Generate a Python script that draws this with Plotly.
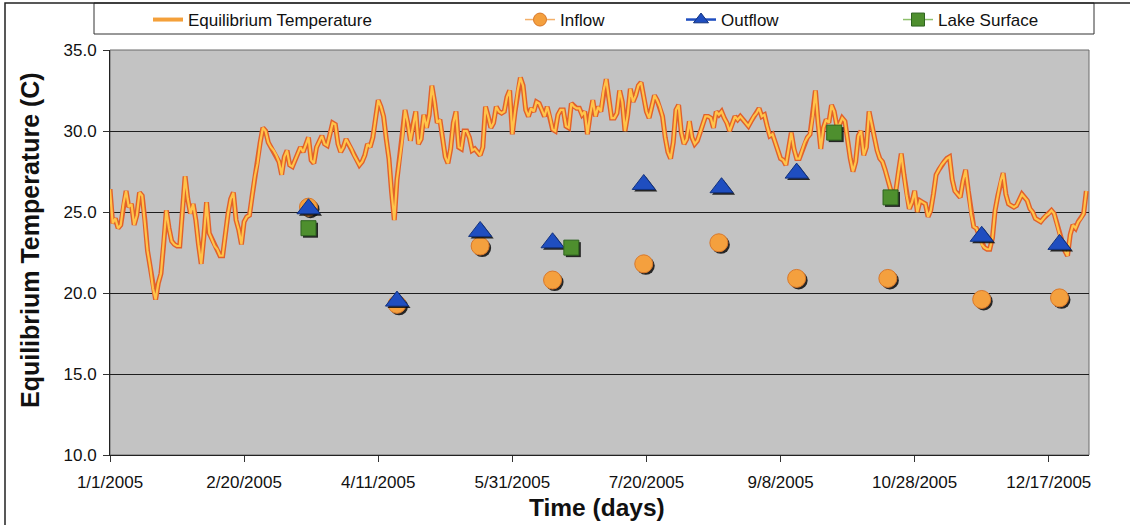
import pandas as pd
import plotly.graph_objects as go

# ---- data -----------------------------------------------------------------
start_date = "2005-01-01"

# daily equilibrium temperature (C), 1/1/2005 .. 12/31/2005
eq_temp = [
    26.4, 24.3, 24.6, 24.0, 24.2, 25.5, 26.3, 25.3, 25.5, 24.2,
    24.8, 26.2, 26.0, 24.5, 22.6, 21.6, 20.3, 19.6, 20.6, 21.2,
    23.0, 25.1, 24.0, 23.2, 23.0, 22.9, 22.9, 25.0, 27.2, 25.8,
    24.9, 25.5, 24.5, 23.0, 21.8, 23.5, 25.6, 23.7, 23.3, 22.9,
    22.7, 22.3, 22.3, 23.7, 24.9, 25.8, 26.2, 24.5, 23.9, 23.0,
    24.4, 24.7, 24.8, 26.0, 27.2, 28.0, 29.3, 30.2, 30.0, 29.3,
    29.0, 28.8, 28.5, 28.1, 27.3, 28.4, 28.8, 27.9, 27.8, 28.2,
    28.6, 29.0, 28.7, 29.2, 29.6, 28.2, 28.0, 29.0, 29.4, 29.7,
    29.2, 29.1, 29.8, 30.5, 30.4, 29.2, 28.7, 29.0, 29.5, 29.2,
    28.9, 28.5, 28.2, 27.9, 28.1, 28.5, 29.2, 29.0, 29.6, 30.8,
    31.9, 31.5, 30.9, 29.5, 28.3, 26.2, 24.5, 27.0, 28.3, 29.5,
    31.3, 30.5, 29.4, 30.4, 31.2, 29.2, 29.5, 31.0, 30.2, 31.0,
    32.8, 31.8, 30.5, 30.7, 29.4, 28.4, 28.0, 28.9, 30.5, 31.2,
    29.0, 28.9, 30.0, 30.0, 29.6, 28.8, 28.9, 28.7, 28.5, 29.0,
    31.5, 30.9, 30.2, 30.5, 31.5, 31.2, 31.1, 31.2, 32.1, 32.5,
    29.8, 31.2, 32.5, 33.3, 32.8, 31.3, 30.9, 31.4, 31.2, 31.8,
    31.7, 31.3, 30.9, 31.5, 30.9, 30.1, 30.0, 31.0, 31.3, 31.3,
    30.3, 30.2, 31.7, 31.5, 31.4, 31.4, 31.0, 31.2, 29.8, 31.0,
    31.9, 30.9, 31.5, 31.2, 32.5, 33.2, 32.0, 30.8, 30.8, 31.1,
    32.5, 31.8, 30.0, 31.0, 32.6, 31.8, 32.2, 32.8, 33.0, 32.2,
    31.2, 30.8, 31.5, 32.2, 31.9, 31.5, 30.9, 29.6, 28.7, 28.3,
    29.3, 31.3, 31.6, 29.9, 29.2, 29.5, 30.6, 29.6, 29.2, 29.4,
    29.9, 30.4, 30.9, 30.9, 30.8, 30.2, 31.2, 31.0, 31.2, 30.8,
    30.5, 30.0, 30.5, 30.9, 30.7, 30.9, 30.7, 30.5, 30.3, 30.6,
    30.9, 31.1, 31.4, 30.9, 31.0, 30.3, 29.7, 29.8, 29.3, 28.7,
    28.3, 28.2, 27.9, 28.9, 29.9, 28.9, 28.3, 28.3, 28.8, 29.3,
    29.6, 29.8, 30.9, 32.5, 30.5, 28.9, 30.2, 30.7, 30.5, 31.6,
    31.2, 30.3, 30.4, 30.8, 30.6, 29.3, 28.3, 27.5, 28.1, 29.7,
    30.0, 28.5, 29.0, 31.2, 30.4, 29.4, 28.8, 28.3, 28.1, 27.6,
    26.9, 26.4, 26.1, 26.3, 27.5, 28.6, 27.3, 26.0, 25.2, 25.6,
    26.3, 25.0, 25.7, 25.6, 25.5, 24.7, 25.1, 26.1, 27.3, 27.6,
    27.9, 28.1, 28.3, 28.4, 27.0, 26.3, 26.1, 25.9, 26.9, 27.6,
    26.3, 24.9, 24.1, 24.0, 23.6, 23.0, 22.8, 22.7, 22.7, 23.4,
    25.1, 26.0, 26.9, 27.4, 26.1, 25.5, 25.4, 25.3, 25.4, 25.8,
    26.1, 25.9, 25.7, 25.2, 25.0, 24.6, 24.5, 24.4, 24.6, 24.8,
    24.9, 25.1, 24.9, 24.3, 23.6, 23.0, 22.6, 22.3, 23.6, 24.2,
    24.0, 24.4, 24.6, 24.9, 26.3,
]

inflow_dates = ["2005-03-16", "2005-04-18", "2005-05-19", "2005-06-15", "2005-07-19",
                "2005-08-16", "2005-09-14", "2005-10-18", "2005-11-22", "2005-12-21"]
inflow_temp = [25.3, 19.3, 22.9, 20.8, 21.8, 23.1, 20.9, 20.9, 19.6, 19.7]

outflow_dates = ["2005-03-16", "2005-04-18", "2005-05-19", "2005-06-15", "2005-07-19",
                 "2005-08-17", "2005-09-14", "2005-11-22", "2005-12-21"]
outflow_temp = [25.2, 19.5, 23.8, 23.1, 26.7, 26.5, 27.4, 23.5, 23.0]

lake_dates = ["2005-03-16", "2005-06-22", "2005-09-28", "2005-10-19"]
lake_temp = [24.0, 22.8, 29.9, 25.9]

x_tick_dates = ["2005-01-01", "2005-02-20", "2005-04-11", "2005-05-31",
                "2005-07-20", "2005-09-08", "2005-10-28", "2005-12-17"]
x_tick_labels = ["1/1/2005", "2/20/2005", "4/11/2005", "5/31/2005",
                 "7/20/2005", "9/8/2005", "10/28/2005", "12/17/2005"]
y_ticks = [10, 15, 20, 25, 30, 35]
y_tick_labels = ["10.0", "15.0", "20.0", "25.0", "30.0", "35.0"]

# ---- geometry ---------------------------------------------------------------
W, H = 1130, 525
M_L, M_R, M_T, M_B = 110, 41, 50, 70
PW, PH = W - M_L - M_R, H - M_T - M_B
X_END = "2006-01-01"
Y_MIN, Y_MAX = 10, 35


def px_x(px):
    return (px - M_L) / PW


def px_y(py):
    return (H - M_B - py) / PH


FONT = "Liberation Sans, Arial, sans-serif"
eq_dates = pd.date_range(start_date, periods=len(eq_temp), freq="D")

# drop-shadow offset for markers (2 px right / down)
days_span = (pd.Timestamp(X_END) - pd.Timestamp(start_date)).days
shadow_dx = pd.Timedelta(hours=24 * 2.0 * days_span / PW)
shadow_dy = 2.0 * (Y_MAX - Y_MIN) / PH


def shifted(dates):
    return [pd.Timestamp(d) + shadow_dx for d in dates]


def dropped(vals):
    return [v - shadow_dy for v in vals]


fig = go.Figure()

# equilibrium temperature: reddish rim + golden core
fig.add_trace(go.Scatter(x=eq_dates, y=eq_temp, mode="lines",
                         line=dict(color="#E2612A", width=5),
                         showlegend=False, hoverinfo="skip"))
fig.add_trace(go.Scatter(x=eq_dates, y=eq_temp, mode="lines",
                         line=dict(color="#FFC44A", width=2.2),
                         name="Equilibrium Temperature", showlegend=False))

marker_specs = [
    ("Inflow", inflow_dates, inflow_temp, "circle", 18, "#F4A03E", "#D9782A", "#F3B06A", "legend2"),
    ("Outflow", outflow_dates, outflow_temp, "triangle-up", 20, "#1F4EC0", "#12327E", "#1F4EC0", "legend3"),
    ("Lake Surface", lake_dates, lake_temp, "square", 15, "#4E8F2E", "#2F6420", "#8EC06C", "legend4"),
]

for name, d, v, sym, size, fill, edge, _, _ in marker_specs:
    fig.add_trace(go.Scatter(x=shifted(d), y=dropped(v), mode="markers",
                             marker=dict(symbol=sym, size=size, color="rgba(10,10,10,0.85)",
                                         line=dict(width=0)),
                             showlegend=False, hoverinfo="skip"))
    fig.add_trace(go.Scatter(x=d, y=v, mode="markers", name=name,
                             marker=dict(symbol=sym, size=size, color=fill,
                                         line=dict(color=edge, width=1)),
                             showlegend=False))

# legend entries (line + marker swatches)
fig.add_trace(go.Scatter(x=[None], y=[None], mode="lines", name="Equilibrium Temperature",
                         line=dict(color="#F4A03A", width=4), legend="legend"))
for name, _, _, sym, size, fill, edge, lcol, leg in marker_specs:
    fig.add_trace(go.Scatter(x=[None], y=[None], mode="lines+markers", name=name,
                             line=dict(color=lcol, width=2.5 if name == "Outflow" else 1.5),
                             marker=dict(symbol=sym, size=min(size, 13), color=fill,
                                         line=dict(color=edge, width=1)),
                             legend=leg))

leg_common = dict(orientation="h", bgcolor="rgba(0,0,0,0)", borderwidth=0,
                  font=dict(family=FONT, size=17, color="#111"),
                  yanchor="middle", xanchor="left", itemwidth=30)
legend_text_px = {"legend": 190, "legend2": 562, "legend3": 723, "legend4": 940}
legends = {k: dict(leg_common, x=px_x(v - 42), y=px_y(20)) for k, v in legend_text_px.items()}

fig.update_layout(
    width=W, height=H,
    margin=dict(l=M_L, r=M_R, t=M_T, b=M_B, autoexpand=False),
    paper_bgcolor="white",
    plot_bgcolor="#C3C3C3",
    font=dict(family=FONT, size=17, color="#111"),
    **legends,
    xaxis=dict(type="date", range=[start_date, X_END],
               tickvals=x_tick_dates, ticktext=x_tick_labels,
               ticks="outside", ticklen=6, tickcolor="#333", tickwidth=1,
               showline=True, linecolor="#222", linewidth=1,
               showgrid=False, zeroline=False, ticklabelstandoff=6,
               tickfont=dict(family=FONT, size=17, color="#111")),
    yaxis=dict(range=[Y_MIN, Y_MAX], tickvals=y_ticks, ticktext=y_tick_labels,
               ticks="outside", ticklen=6, tickcolor="#333", tickwidth=1,
               showline=True, linecolor="#222", linewidth=1,
               showgrid=True, gridcolor="#1E1E1E", gridwidth=1, zeroline=False,
               ticklabelstandoff=3,
               tickfont=dict(family=FONT, size=17, color="#111")),
    shapes=[
        # plot frame
        dict(type="rect", xref="paper", yref="paper", x0=0, x1=1, y0=0, y1=1,
             line=dict(color="#6A6A6A", width=1), layer="below"),
        # legend box
        dict(type="rect", xref="paper", yref="paper",
             x0=px_x(94), x1=px_x(1094), y0=px_y(34), y1=px_y(3),
             line=dict(color="#333", width=1), fillcolor="rgba(0,0,0,0)"),
        # outer chart border
        dict(type="rect", xref="paper", yref="paper",
             x0=px_x(5), x1=px_x(1140), y0=px_y(540), y1=px_y(3),
             line=dict(color="#222", width=1.5), fillcolor="rgba(0,0,0,0)"),
    ],
    annotations=[
        dict(text="<b>Equilibrium Temperature (C)</b>", xref="paper", yref="paper",
             x=px_x(30), y=px_y(240), textangle=-90, showarrow=False,
             xanchor="center", yanchor="middle",
             font=dict(family=FONT, size=25, color="#111")),
        dict(text="<b>Time (days)</b>", xref="paper", yref="paper",
             x=px_x(597), y=px_y(507), showarrow=False,
             xanchor="center", yanchor="middle",
             font=dict(family=FONT, size=24.5, color="#111")),
    ],
)

fig.write_html("out.html")
